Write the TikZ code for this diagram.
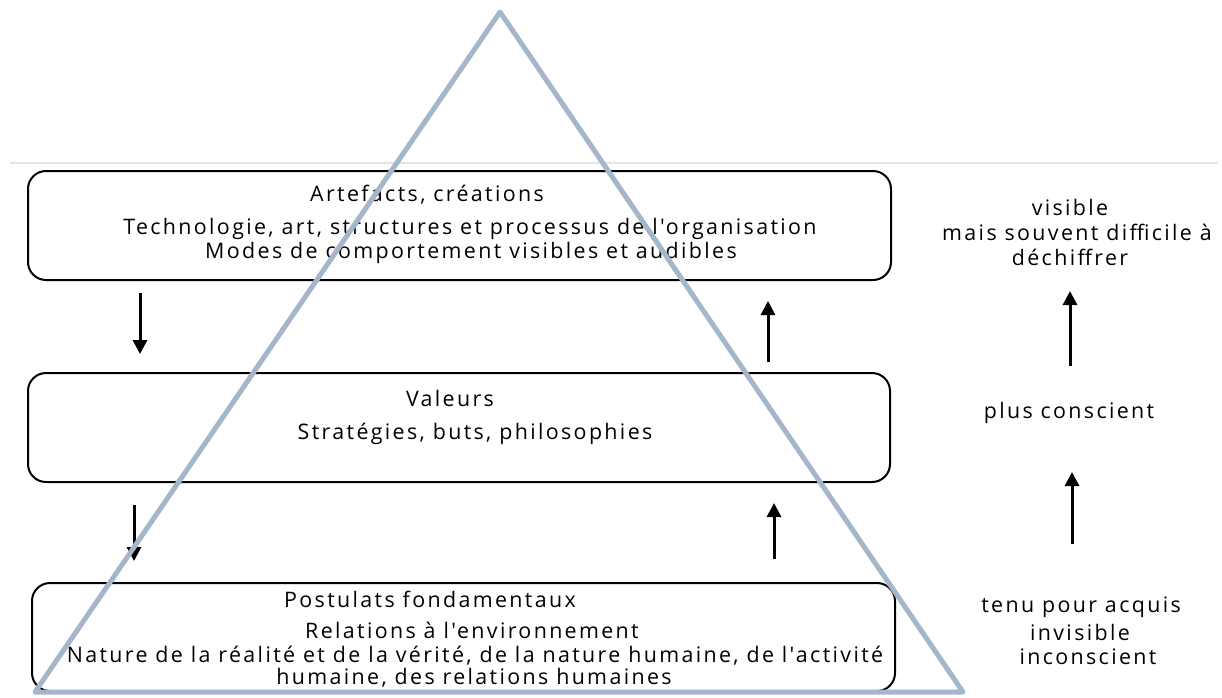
\documentclass[tikz,border=0pt]{standalone}
\usepackage{fontspec}
\setmainfont{Open Sans}
\newfontfamily\wide[LetterSpace=11]{Open Sans}
\usetikzlibrary{arrows.meta}
\definecolor{tricol}{RGB}{165,182,204}
\definecolor{sepcol}{RGB}{228,228,228}
\begin{document}
\begin{tikzpicture}[x=1pt,y=-1pt,
  box/.style={draw=black,line width=2pt,rounded corners=18pt,inner sep=0pt},
  txt/.style={inner sep=0pt,font=\wide\fontsize{21.4}{24}\selectfont,anchor=center},
  arr/.style={line width=3pt,-{Triangle[width=14pt,length=14pt]}},
  tri/.style={draw=tricol,line width=5pt,line join=round}
]
\useasboundingbox (0,0) rectangle (1222,697);
\fill[white] (0,0) rectangle (1222,697);
% separator line
\coordinate (sl) at (10,163);
\coordinate (sr) at (1218,163);
\draw[line width=1.5pt,sepcol] (sl) -- (sr);
% boxes
\node[box,minimum width=863pt,minimum height=109pt] (b1) at (459.5,225.5) {};
\node[box,minimum width=862pt,minimum height=109pt] (b2) at (459,427.5) {};
\node[box,minimum width=863pt,minimum height=108pt] (b3) at (463.5,637) {};
% texts box 1
\node[txt] (t11) at (427,195) {Artefacts, créations};
\node[txt] (t12) at (470,229) {Technologie, art, structures et processus de l'organisation};
\node[txt] (t13) at (471,253) {Modes de comportement visibles et audibles};
% texts box 2
\node[txt] (t21) at (450,398) {Valeurs};
\node[txt] (t22) at (475,434) {Stratégies, buts, philosophies};
% texts box 3
\node[txt] (t31) at (430,599) {Postulats fondamentaux};
\node[txt] (t32) at (472,630) {Relations à l'environnement};
\node[txt] (t33) at (475,656) {Nature de la réalité et de la vérité, de la nature humaine, de l'activité};
\node[txt] (t34) at (474,678) {humaine, des relations humaines};
% right texts
\node[txt] (r11) at (1070,207) {visible};
\node[txt] (r12) at (1077,232) {mais souvent difficile à};
\node[txt] (r13) at (1070,257) {déchiffrer};
\node[txt] (r2) at (1069,413) {plus conscient};
\node[txt] (r31) at (1081,607) {tenu pour acquis};
\node[txt] (r32) at (1080,632) {invisible};
\node[txt] (r33) at (1088,657) {inconscient};
% arrows
\coordinate (a1s) at (140,293); \coordinate (a1e) at (140,354);
\coordinate (a2s) at (768,362); \coordinate (a2e) at (768,301);
\coordinate (a3s) at (134,505); \coordinate (a3e) at (134,561);
\coordinate (a4s) at (774,559); \coordinate (a4e) at (774,503);
\coordinate (a5s) at (1070,366); \coordinate (a5e) at (1070,291);
\coordinate (a6s) at (1072,544); \coordinate (a6e) at (1072,472);
\draw[arr] (a1s) -- (a1e);
\draw[arr] (a2s) -- (a2e);
\draw[arr] (a3s) -- (a3e);
\draw[arr] (a4s) -- (a4e);
\draw[arr] (a5s) -- (a5e);
\draw[arr] (a6s) -- (a6e);
% triangle
\coordinate (ta) at (500,12);
\coordinate (tl) at (35,692);
\coordinate (tr) at (963,692);
\draw[tri] (ta) -- (tl) -- (tr) -- cycle;
\end{tikzpicture}
\end{document}
